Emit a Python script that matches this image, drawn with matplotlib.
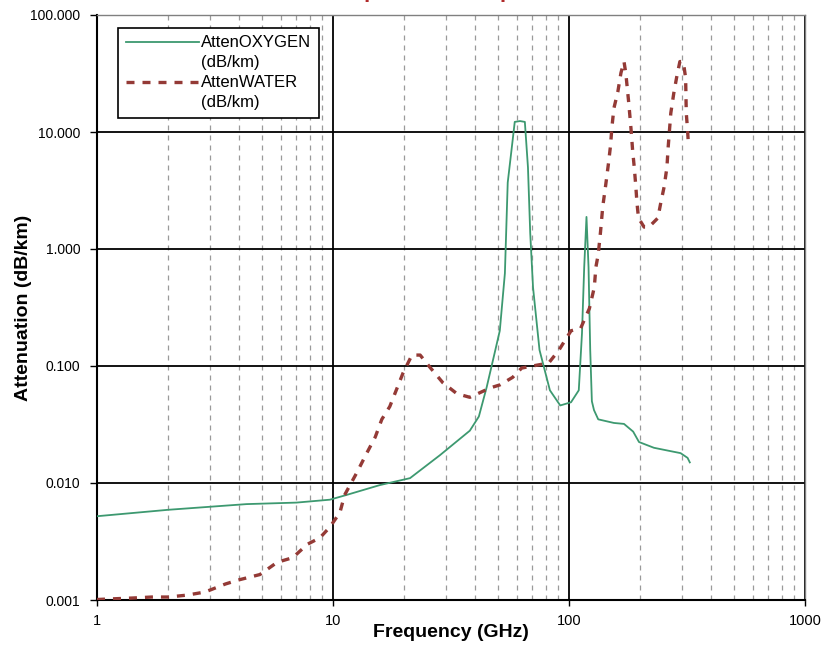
import matplotlib
matplotlib.use("Agg")
import matplotlib.pyplot as plt
from matplotlib.lines import Line2D
from matplotlib.ticker import LogLocator, FixedLocator, FuncFormatter, NullFormatter

plt.rcParams['font.family'] = ['Liberation Sans', 'DejaVu Sans']

title = "Atmospheric Absorption"
x_label = "Frequency (GHz)"
y_label = "Attenuation (dB/km)"
oxygen_label = "AttenOXYGEN"
water_label = "AttenWATER"
unit_label = "(dB/km)"

x_ticks = [1, 10, 100, 1000]
y_ticks = [0.001, 0.01, 0.1, 1, 10, 100]

oxygen_freq = [1, 2, 4.3, 7, 9.7, 11.4, 15.8, 21.2, 28.4, 38, 41.5, 44.8, 48, 50.9,
               53.5, 55, 57.7, 58.9, 62, 65, 67, 68.5, 70.4, 75, 83, 91.8, 102, 110,
               113.5, 116, 118.6, 121, 123, 125, 127.6, 133, 155, 171, 187, 198, 229,
               270, 297, 318, 325]
oxygen_atten = [0.0052, 0.0059, 0.0066, 0.0068, 0.0072, 0.0079, 0.0096, 0.011, 0.0173,
                0.028, 0.037, 0.066, 0.12, 0.2,
                0.62, 3.7, 8.5, 12.2, 12.4, 12.2, 5.0, 1.37, 0.47, 0.137, 0.062, 0.046,
                0.049, 0.062, 0.19, 0.70, 1.88, 0.70, 0.137, 0.05, 0.042, 0.035, 0.0326,
                0.032, 0.0275, 0.0224, 0.020, 0.0187, 0.018, 0.0164, 0.015]

water_freq = [1, 1.42, 1.7, 2.0, 2.4, 2.87, 3.5, 3.96, 4.9, 5.8,
              6.75, 7.8, 8.8, 9.7, 10.7, 11.2, 12.6, 13.9, 15.1, 16.1,
              17.4, 18.7, 19.8, 21.6, 23.4, 25.7, 29.2, 33.5, 38, 46.4,
              51, 57.7, 63, 70, 82, 90.7, 102, 112, 122, 128,
              130, 133, 136, 139, 143, 147, 150, 152, 155, 161,
              166, 171, 174, 179, 183, 186, 189, 192, 194, 197,
              208, 218, 238, 245, 253, 260, 263, 270, 278, 286,
              295, 305, 312, 314, 318, 321]
water_atten = [0.00101, 0.00104, 0.00106, 0.00106, 0.0011, 0.00117, 0.00137, 0.00148, 0.00165, 0.0021,
               0.0023, 0.0030, 0.0034, 0.0042, 0.0056, 0.0079, 0.0122, 0.018, 0.0247, 0.035,
               0.045, 0.065, 0.087, 0.124, 0.124, 0.098, 0.072, 0.058, 0.054, 0.065,
               0.069, 0.08, 0.096, 0.10, 0.106, 0.137, 0.2, 0.21, 0.31, 0.47,
               0.70, 0.9, 1.4, 2.3, 3.5, 5.4, 7.7, 11, 16, 22,
               32, 40, 32, 18, 10.8, 7.0, 5.0, 3.4, 2.5, 1.84,
               1.54, 1.54, 1.84, 2.5, 3.4, 5.0, 7.3, 14.5, 21.5, 29.5,
               40, 40, 29, 14.5, 10.4, 7.5]

fig = plt.figure(figsize=(8.23, 6.47), dpi=100)
ax = fig.add_axes([97/823, 1 - 600/647, (805-97)/823, (600-15)/647])

green = '#3d9970'
red = '#943a36'

ax.plot(oxygen_freq, oxygen_atten, color=green, lw=1.3, label=oxygen_label, zorder=4)
ax.plot(water_freq, water_atten, color=red, lw=2.4, dashes=(2.4, 2.4), label=water_label, zorder=5)

ax.set_xscale('log')
ax.set_yscale('log')
ax.set_xlim(1, 1000)
ax.set_ylim(0.001, 100)

ax.xaxis.set_major_locator(FixedLocator(x_ticks))
ax.xaxis.set_major_formatter(FuncFormatter(lambda v, p: f"{v:g}"))
ax.xaxis.set_minor_locator(LogLocator(base=10, subs=range(2, 10)))
ax.xaxis.set_minor_formatter(NullFormatter())
ax.yaxis.set_major_locator(FixedLocator(y_ticks))
ax.yaxis.set_major_formatter(FuncFormatter(lambda v, p: f"{v:.3f}"))
ax.yaxis.set_minor_locator(FixedLocator([]))

ax.grid(True, which='major', axis='both', color='black', lw=1.3, zorder=1)
ax.grid(True, which='minor', axis='x', color='#9a9a9a', lw=0.9, dashes=(4, 4))
ax.set_axisbelow(True)

ax.tick_params(axis='x', which='major', direction='out', length=4, pad=6, labelsize=10.5, width=1)
ax.tick_params(axis='x', which='minor', length=0)
ax.tick_params(axis='y', which='major', direction='out', length=5, pad=7, labelsize=10, width=1)

for s in ['left', 'bottom']:
    ax.spines[s].set_color('black')
    ax.spines[s].set_linewidth(1.5)
for s in ['top', 'right']:
    ax.spines[s].set_color('#808080')
    ax.spines[s].set_linewidth(1.0)

ax.set_xlabel(x_label, fontsize=14, fontweight='bold', va='top')
ax.xaxis.set_label_coords(0.5, -0.041)
ax.set_ylabel(y_label, fontsize=14, fontweight='bold', va='center')
ax.yaxis.set_label_coords(-0.104, 0.5)

blank = Line2D([], [], linestyle='none')
h_oxy = Line2D([], [], color=green, lw=1.3)
h_wat = Line2D([], [], color=red, lw=2.4, dashes=(2.4, 2.4))
leg = ax.legend([h_oxy, blank, h_wat, blank],
                [oxygen_label, unit_label, water_label, unit_label],
                loc='upper left', bbox_to_anchor=(0.0297, 0.978), borderaxespad=0,
                fontsize=12, handlelength=4.4, handletextpad=0.15, labelspacing=0.3,
                borderpad=0.45, fancybox=False, framealpha=1, edgecolor='black')
leg.get_frame().set_linewidth(1.2)

fig.text(0.516, 1 + 2.5/647, title, ha='center', va='baseline', fontsize=16,
         fontweight='bold', color='#b02a2a')

fig.savefig('out.png', dpi=100)
